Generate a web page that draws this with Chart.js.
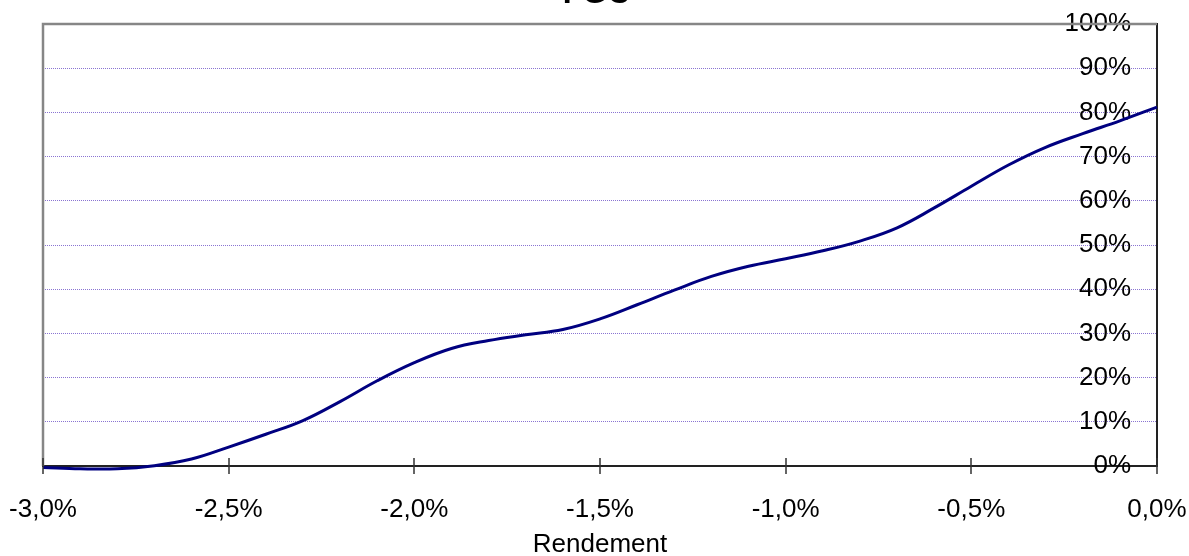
<!DOCTYPE html>
<html>
<head>
<meta charset="utf-8">
<script src="https://cdn.jsdelivr.net/npm/chart.js@4/dist/chart.umd.min.js"></script>
<style>
  html, body { margin: 0; padding: 0; background: #ffffff; }
  #wrap { width: 1189px; height: 556px; }
</style>
</head>
<body>
<div id="wrap"><canvas id="c" width="1189" height="556"></canvas></div>
<script>
// Cumulative share (%) of observations at or below each return level (%)
const chartTitle = 'FGC';
const axisTitle = 'Rendement';
const returns = [-3.0, -2.9, -2.8, -2.7, -2.6, -2.5, -2.4, -2.3, -2.2, -2.1, -2.0,
                 -1.9, -1.8, -1.7, -1.6, -1.5, -1.4, -1.3, -1.2, -1.1, -1.0,
                 -0.9, -0.8, -0.7, -0.6, -0.5, -0.4, -0.3, -0.2, -0.1, 0.0];
const cumulative = [-0.3, -0.6, -0.6, 0.1, 1.6, 4.3, 7.2, 10.3, 14.6, 19.3, 23.4,
                    26.6, 28.4, 29.7, 30.9, 33.3, 36.5, 39.8, 42.9, 45.2, 46.9,
                    48.7, 50.9, 53.9, 58.4, 63.3, 68.1, 72.1, 75.2, 78.1, 81.2];
const xTickValues = [-3.0, -2.5, -2.0, -1.5, -1.0, -0.5, 0.0];
const xTickLabels = ['-3,0%', '-2,5%', '-2,0%', '-1,5%', '-1,0%', '-0,5%', '0,0%'];
const yTickValues = [0, 10, 20, 30, 40, 50, 60, 70, 80, 90, 100];
const yTickLabels = ['0%', '10%', '20%', '30%', '40%', '50%', '60%', '70%', '80%', '90%', '100%'];

const FONT = '"Liberation Sans", Arial, sans-serif';

// Chart heading, set high so that it runs off the top edge
const heading = {
  id: 'heading',
  afterDraw(chart) {
    const { ctx, width } = chart;
    ctx.save();
    ctx.fillStyle = '#000000';
    ctx.font = 'bold 32px ' + FONT;
    ctx.textAlign = 'center';
    ctx.textBaseline = 'alphabetic';
    ctx.fillText(chartTitle, width / 2 + 2, 3);
    ctx.restore();
  }
};

// Grey frame on the left and top of the plot area
const frame = {
  id: 'frame',
  beforeDatasetsDraw(chart) {
    const { ctx, chartArea: a } = chart;
    ctx.save();
    ctx.strokeStyle = '#868686';
    ctx.lineWidth = 2.5;
    ctx.beginPath();
    ctx.moveTo(a.left, a.bottom);
    ctx.lineTo(a.left, a.top);
    ctx.lineTo(a.right, a.top);
    ctx.stroke();
    ctx.restore();
  }
};

// Category-axis tick marks crossing the axis line
const crossTicks = {
  id: 'crossTicks',
  afterDraw(chart) {
    const { ctx, chartArea: a } = chart;
    const sx = chart.scales.x;
    ctx.save();
    ctx.strokeStyle = '#333333';
    ctx.lineWidth = 1.5;
    ctx.beginPath();
    sx.ticks.forEach(t => {
      const px = Math.round(sx.getPixelForValue(t.value));
      ctx.moveTo(px, a.bottom - 8);
      ctx.lineTo(px, a.bottom + 8);
    });
    ctx.stroke();
    ctx.restore();
  }
};

new Chart(document.getElementById('c'), {
  type: 'line',
  data: {
    datasets: [{
      data: returns.map((r, i) => ({ x: r, y: cumulative[i] })),
      borderColor: '#000080',
      borderWidth: 3,
      pointRadius: 0,
      fill: false,
      tension: 0.4,
      clip: false
    }]
  },
  plugins: [frame, crossTicks, heading],
  options: {
    responsive: false,
    animation: false,
    layout: { padding: { left: 43, right: 32, top: 24, bottom: 0 } },
    plugins: {
      legend: { display: false },
      tooltip: { enabled: false },
      title: { display: false }
    },
    scales: {
      x: {
        type: 'linear',
        min: -3,
        max: 0,
        afterBuildTicks(scale) { scale.ticks = xTickValues.map(v => ({ value: v })); },
        ticks: {
          color: '#000000',
          font: { family: FONT, size: 26 },
          padding: 0,
          maxRotation: 0,
          callback: (v) => {
            const i = xTickValues.findIndex(t => Math.abs(t - v) < 1e-9);
            return i >= 0 ? xTickLabels[i] : '';
          }
        },
        grid: {
          display: true,
          drawOnChartArea: false,
          drawTicks: true,
          tickLength: 28,
          tickColor: 'rgba(0,0,0,0)'
        },
        border: { display: true, color: '#222222', width: 2 },
        title: {
          display: true,
          text: axisTitle,
          color: '#000000',
          font: { family: FONT, size: 26 },
          padding: { top: 3.5, bottom: -4 }
        }
      },
      y: {
        type: 'linear',
        position: 'right',
        min: 0,
        max: 100,
        afterBuildTicks(scale) { scale.ticks = yTickValues.map(v => ({ value: v })); },
        ticks: {
          mirror: true,
          padding: -26,
          color: '#000000',
          font: { family: FONT, size: 26 },
          callback: (v) => {
            const i = yTickValues.indexOf(v);
            return i >= 0 ? yTickLabels[i] : '';
          }
        },
        grid: {
          drawTicks: false,
          color: '#8a74d2',
          lineWidth: 1
        },
        border: { display: true, color: '#222222', width: 2, dash: [1, 1] }
      }
    }
  }
});
</script>
</body>
</html>
